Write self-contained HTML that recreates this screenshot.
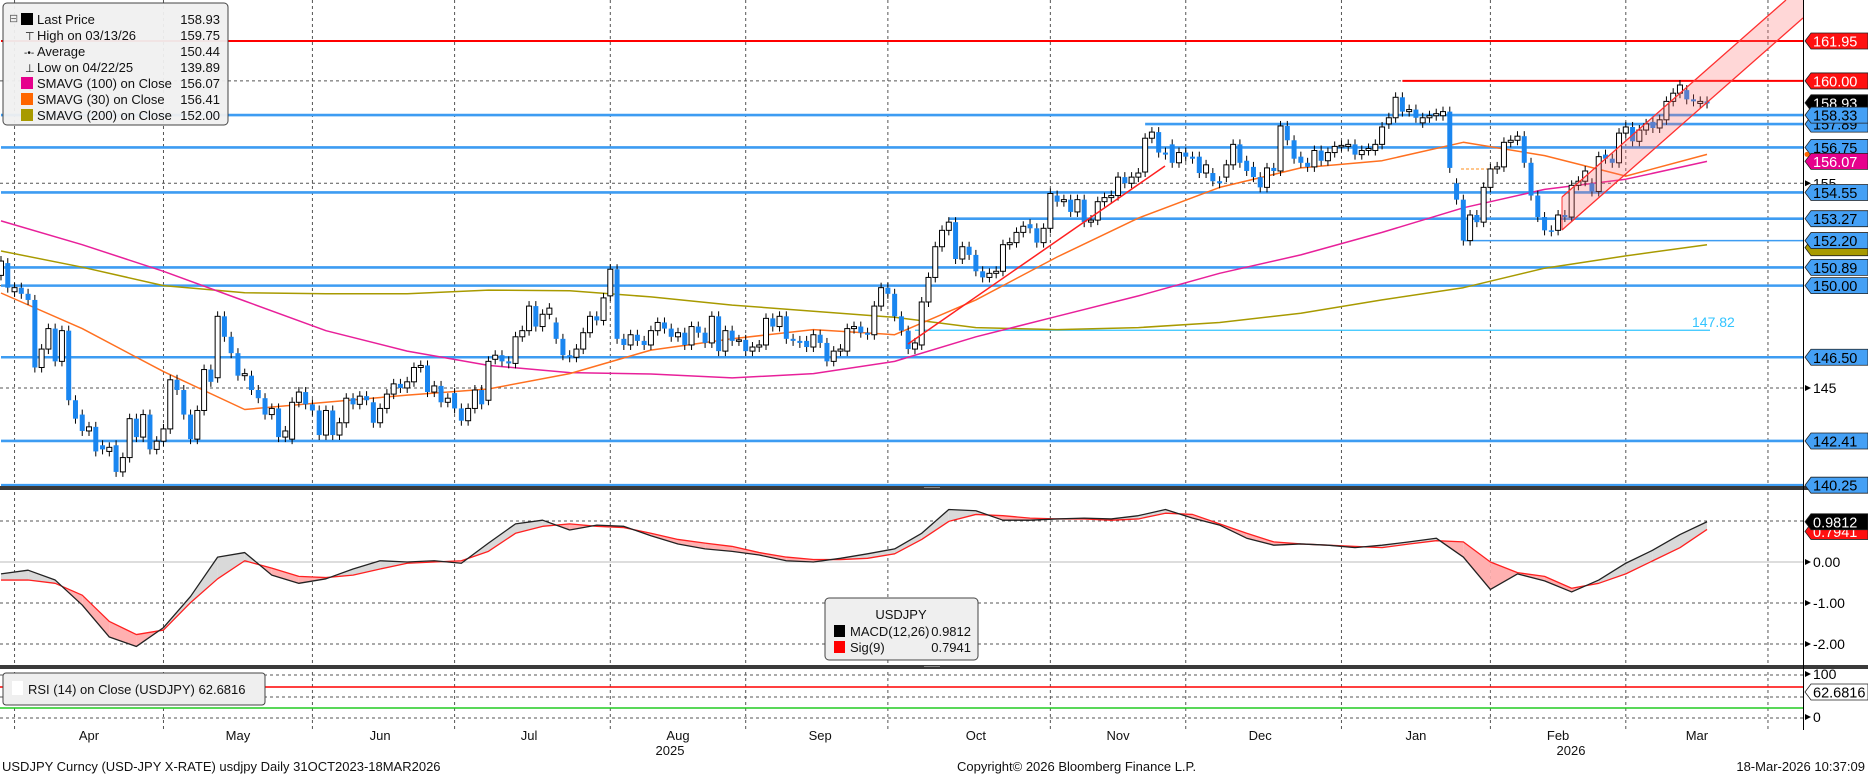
<!DOCTYPE html>
<html><head><meta charset="utf-8"><style>
html,body{margin:0;padding:0;background:#fff;width:1868px;height:775px;overflow:hidden}
svg{display:block;font-family:"Liberation Sans",sans-serif}
</style></head><body>
<svg id="chart" width="1868" height="775" xmlns="http://www.w3.org/2000/svg">
<defs>
<clipPath id="mainClip"><rect x="0" y="0" width="1803" height="486"/></clipPath>
<clipPath id="macdClip"><rect x="0" y="490" width="1803" height="175"/></clipPath>
</defs>
<rect x="0" y="0" width="1868" height="775" fill="#fff"/>
<g id="grid"></g>
<g id="levels" clip-path="url(#mainClip)"></g>
<g id="mas" clip-path="url(#mainClip)"></g>
<g id="candles" clip-path="url(#mainClip)"></g>
<g id="trend" clip-path="url(#mainClip)">
  <polygon points="1562,197 1786,0 1803,0 1803,18 1562,230" fill="rgba(255,110,110,0.28)" stroke="none"/>
  <line x1="1562" y1="197" x2="1786" y2="0" stroke="#ff3030" stroke-width="1.3"/>
  <line x1="1562" y1="230" x2="1803" y2="18" stroke="#ff3030" stroke-width="1.3"/>
  <line x1="1562" y1="197" x2="1562" y2="230" stroke="#ff3030" stroke-width="1"/>
  <line x1="908" y1="344" x2="1165" y2="166" stroke="#ff2020" stroke-width="1.5"/>
</g>
<g id="macd" clip-path="url(#macdClip)"></g>
<rect x="0" y="486" width="1868" height="4" fill="#3a3a3a"/>
<rect x="0" y="665" width="1868" height="4" fill="#3a3a3a"/>
<line x1="924" y1="487.5" x2="940" y2="487.5" stroke="#888" stroke-width="1"/>
<line x1="924" y1="666.5" x2="940" y2="666.5" stroke="#888" stroke-width="1"/>
<g>
  <line x1="0" y1="675" x2="1803" y2="675" stroke="#555" stroke-dasharray="3,3"/>
  <line x1="0" y1="697" x2="1803" y2="697" stroke="#555" stroke-dasharray="3,3"/>
  <line x1="0" y1="718" x2="1803" y2="718" stroke="#555" stroke-dasharray="3,3"/>
  <line x1="0" y1="687" x2="1803" y2="687" stroke="#ff0000" stroke-width="1.5"/>
  <line x1="0" y1="708" x2="1803" y2="708" stroke="#22cc22" stroke-width="1.5"/>
  <rect x="3" y="673" width="262" height="32" rx="3" fill="#efefef" stroke="#444"/>
  <rect x="12" y="681" width="11" height="14" fill="#fff"/>
  <text x="28" y="694" font-size="13" fill="#111">RSI (14)  on Close (USDJPY) 62.6816</text>
</g>
<line x1="1803.5" y1="0" x2="1803.5" y2="730" stroke="#000" stroke-width="1"/>
<g id="axis"></g>
<g id="xaxis"></g>
<g>
  <rect x="3" y="3" width="225" height="122" rx="4" fill="#f0f0f0" stroke="#444" fill-opacity="0.95"/>
  <g font-size="13" fill="#111">
    <rect x="21" y="13" width="12" height="12" fill="#000"/><text x="37" y="24">Last Price</text><text x="220" y="24" text-anchor="end">158.93</text>
    <text x="25" y="40" font-size="11">⊤</text><text x="37" y="40">High on 03/13/26</text><text x="220" y="40" text-anchor="end">159.75</text>
    <text x="24" y="56" font-size="10">-•-</text><text x="37" y="56">Average</text><text x="220" y="56" text-anchor="end">150.44</text>
    <text x="25" y="72" font-size="11">⊥</text><text x="37" y="72">Low on 04/22/25</text><text x="220" y="72" text-anchor="end">139.89</text>
    <rect x="21" y="77" width="12" height="12" fill="#e6008c"/><text x="37" y="88">SMAVG (100)  on Close</text><text x="220" y="88" text-anchor="end">156.07</text>
    <rect x="21" y="93" width="12" height="12" fill="#ff6600"/><text x="37" y="104">SMAVG (30)  on Close</text><text x="220" y="104" text-anchor="end">156.41</text>
    <rect x="21" y="109" width="12" height="12" fill="#a89a00"/><text x="37" y="120">SMAVG (200)  on Close</text><text x="220" y="120" text-anchor="end">152.00</text>
    <text x="9" y="22" font-size="11" fill="#666">⊟</text>
  </g>
</g>
<g>
  <rect x="825" y="598" width="153" height="62" rx="4" fill="#efefef" stroke="#444"/>
  <text x="901" y="619" font-size="13" text-anchor="middle" fill="#111">USDJPY</text>
  <rect x="834" y="625" width="11" height="12" fill="#000"/>
  <text x="850" y="636" font-size="13" fill="#111">MACD(12,26)</text><text x="971" y="636" font-size="13" text-anchor="end" fill="#111">0.9812</text>
  <rect x="834" y="641" width="11" height="12" fill="#ff0000"/>
  <text x="850" y="652" font-size="13" fill="#111">Sig(9)</text><text x="971" y="652" font-size="13" text-anchor="end" fill="#111">0.7941</text>
</g>
<g font-size="13" fill="#111">
  <text x="2" y="771">USDJPY Curncy (USD-JPY X-RATE) usdjpy Daily 31OCT2023-18MAR2026</text>
  <text x="957" y="771">Copyright© 2026 Bloomberg Finance L.P.</text>
  <text x="1865" y="771" text-anchor="end">18-Mar-2026 10:37:09</text>
</g>
</svg>
<script>
const candles = [
[150.5,151.2],[151.1,149.9],[149.7,149.9],[149.9,149.6],[149.6,149.3],[149.3,146.0],[146.0,146.9],[146.9,147.9],[147.9,146.3],[146.3,147.8],
[147.8,144.4],[144.4,143.5],[143.7,142.9],[142.9,143.1],[143.1,141.9],[142.2,142.0],[141.9,142.1],[142.2,140.9],[140.9,141.6],[141.6,143.5],
[143.5,142.6],[142.6,143.7],[143.7,142.0],[142.0,142.4],[142.4,143.0],[143.0,145.4],[145.4,144.9],[144.9,143.7],[143.7,142.5],[142.5,143.9],
[143.9,145.9],[145.9,145.3],[145.5,148.5],[148.5,147.5],[147.5,146.7],[146.7,145.6],[145.6,145.7],[145.6,144.9],[144.9,144.5],[144.5,143.7],
[143.7,144.0],[144.0,142.6],[142.6,142.9],[142.5,144.3],[144.3,144.8],[144.8,144.2],[144.2,143.9],[143.9,142.7],[142.7,143.9],[143.9,142.7],
[142.7,143.3],[143.3,144.5],[144.5,144.2],[144.2,144.6],[144.6,144.4],[144.3,143.3],[143.3,144.0],[144.0,144.7],[144.7,145.2],[145.2,145.0],
[145.0,145.3],[145.3,146.0],[146.0,146.1],[146.1,144.8],[144.8,145.1],[145.1,144.3],[144.3,144.5],[144.75,144.0],[144.0,143.4],
[143.4,144.0],[144.0,144.9],[144.9,144.2],[144.4,146.3],[146.4,146.6],[146.6,146.3],[146.3,146.2],[146.2,147.5],[147.5,147.8],[147.8,149.0],
[149.0,148.0],[148.0,148.6],[148.6,148.9],[148.2,147.4],[147.4,146.6],[146.6,146.5],[146.5,146.9],[146.9,147.7],[147.7,148.5],[148.5,148.3],
[148.3,149.4],[149.5,150.8],[150.8,147.4],[147.4,147.1],[147.1,147.6],[147.6,147.3],[147.3,147.1],[147.1,147.8],[147.8,148.2],[148.2,147.9],
[147.9,147.5],[147.5,147.7],[147.7,147.1],[147.1,148.0],[148.0,147.7],[147.7,147.2],[147.2,148.5],[148.5,146.8],[146.8,147.8],[147.8,147.3],
[147.3,147.35],[147.35,146.8],[146.8,147.0],[147.0,147.1],[147.1,148.4],[148.4,148.0],[148.0,148.5],[148.5,147.4],[147.4,147.3],[147.3,147.2],
[147.3,147.0],[147.0,147.6],[147.6,147.2],[147.2,146.3],[146.3,146.8],[146.8,146.9],[146.8,147.9],[147.9,148.0],[148.0,147.7],[147.7,147.6],
[147.6,149.0],[149.0,149.9],[149.9,149.6],[149.6,148.5],[148.5,147.8],[147.8,146.9],[146.9,147.2],
[147.1,149.2],[149.2,150.4],[150.4,151.9],[151.9,152.7],[152.7,153.1],[153.1,151.3],[151.3,151.9],[151.9,151.5],[151.5,150.7],[150.7,150.4],
[150.4,150.6],[150.6,150.7],[150.7,152.0],[152.0,152.1],[152.1,152.6],[152.6,152.9],[153.0,152.8],[152.8,152.1],[152.1,152.8],[152.8,154.5],
[154.4,154.1],[154.1,154.2],[154.2,153.6],[153.6,154.2],[154.2,153.1],[153.1,153.2],[153.2,154.1],[154.1,154.3],[154.3,154.4],[154.4,155.3],
[155.3,155.0],[155.0,155.3],[155.3,155.5],[155.55,157.2],[157.2,157.5],[157.5,156.5],[156.5,156.4],[156.9,156.0],[156.0,156.5],[156.5,156.3],
[156.3,156.2],[156.3,155.5],[155.5,155.9],[155.5,155.1],[155.1,155.0],[155.3,155.9],[155.9,156.9],[156.9,156.0],[156.1,155.6],[155.8,155.3],
[155.3,154.8],[154.8,155.75],[155.75,155.6],[155.6,157.8],[157.8,157.1],[157.1,156.2],[156.3,156.0],[156.0,155.8],[155.8,156.6],[156.6,156.1],
[156.1,156.5],[156.5,156.8],[156.8,156.85],[156.8,156.9],[156.9,156.4],
[156.4,156.6],[156.6,156.7],[156.6,156.9],[156.9,157.75],[157.9,158.2],[158.2,159.2],[159.2,158.5],[158.5,158.6],[158.6,158.2],[157.95,158.2],
[158.2,158.3],[158.3,158.4],[158.3,158.5],[158.5,155.75],[155.0,154.2],[154.2,152.2],[152.2,153.45],[153.45,153.1],[153.1,154.8],[154.8,155.7],
[155.7,155.8],[155.8,157.0],[157.0,157.1],[157.1,157.3],[157.3,156.0],[156.0,154.4],[154.4,153.35],[153.35,152.7],[152.7,152.65],[152.7,153.45],
[153.45,153.35],[153.35,154.9],[154.9,155.1],[155.1,155.6],[155.0,154.6],[154.6,156.3],[156.4,156.2],[156.2,156.0],[156.0,157.45],[157.45,157.75],
[157.75,157.05],[157.05,157.6],[157.6,157.9],[158.0,157.7],[157.7,158.1],[158.1,159.0],[159.0,159.4],[159.4,159.8],[159.55,159.1],[159.1,159.0],
[158.9,159.0],[159.0,158.9]
];
const maIndex = [0,12,24,36,48,60,72,84,96,108,120,132,144,156,168,180,192,204,216,228,240,252];
const sma30  = [149.64,147.9,145.8,143.95,144.3,144.65,144.95,145.7,146.85,147.4,147.85,147.6,149.3,151.4,153.3,154.8,155.75,156.1,157.0,156.35,155.35,156.41];
const sma100 = [153.16,152.0,150.7,149.25,147.8,146.8,146.1,145.75,145.68,145.49,145.7,146.3,147.5,148.5,149.5,150.6,151.5,152.6,153.8,154.7,155.2,156.07];
const sma200 = [151.69,150.9,150.0,149.65,149.6,149.6,149.78,149.75,149.45,149.05,148.75,148.45,147.95,147.85,147.95,148.2,148.65,149.3,149.9,150.85,151.45,152.0];
// MACD sampled every 4 sessions (last at session 252)
const macdVals = [-0.29,-0.20,-0.44,-1.05,-1.83,-2.06,-1.60,-0.84,0.12,0.23,
-0.32,-0.52,-0.41,-0.17,0.03,0,0.03,-0.03,0.46,0.93,
1.02,0.78,0.90,0.87,0.64,0.44,0.32,0.26,0.17,0.03,
0,0.09,0.20,0.32,0.70,1.28,1.25,1.02,1.02,1.05,
1.07,1.05,1.13,1.28,1.07,0.90,0.58,0.41,0.44,0.41,
0.35,0.41,0.49,0.58,0.12,-0.67,-0.29,-0.46,-0.73,-0.44,
-0.03,0.29,0.67,0.9812];
const sigVals = [-0.44,-0.44,-0.52,-0.81,-1.45,-1.77,-1.66,-0.99,-0.41,0.03,
-0.15,-0.35,-0.38,-0.32,-0.17,-0.03,0,0.03,0.26,0.70,
0.87,0.93,0.87,0.84,0.70,0.55,0.46,0.38,0.23,0.12,
0.06,0.06,0.09,0.20,0.55,0.99,1.16,1.13,1.07,1.05,
1.05,1.02,1.05,1.19,1.16,0.93,0.70,0.49,0.44,0.41,
0.38,0.35,0.44,0.52,0.49,0,-0.26,-0.35,-0.64,-0.52,
-0.29,0.03,0.35,0.7941];
const macdIndex = macdVals.map((v,k)=>Math.min(252,k*4));
const levelPrices = [158.33,157.89,156.75,154.55,153.27,152.20,150.89,150.00,147.82,146.50,142.41,140.25,161.95,160.00];
const levelStarts = [0,169,0,0,140,216,0,0,135,0,0,0,0,207];
const levelKinds  = ['b','b','b','b','b','t','b','b','c','b','b','b','r','r'];
const monthLabels = ['Apr','May','Jun','Jul','Aug','Sep','Oct','Nov','Dec','Jan','Feb','Mar'];
const monthMid    = [13,35,56,78,100,121,144,165,186,209,230,250.5];
const monthStart  = [2,24,46,67,90,110,131,155,175,198,220,240,261];
const priceTicks = [145,150,155,160];
const macdTicks = [1,0,-1,-2];

const NS='http://www.w3.org/2000/svg';
const DX=6.77;
const xs=i=>1+i*DX;
const yp=p=>41+(161.95-p)*20.47;
const ym=v=>562-v*41;
function mk(tag,attrs,parent){const e=document.createElementNS(NS,tag);for(const k in attrs)e.setAttribute(k,attrs[k]);parent.appendChild(e);return e;}

const grid=document.getElementById('grid');
monthStart.forEach(i=>{
  const l=mk('line',{x1:xs(i),x2:xs(i),y1:0,y2:730,stroke:'#555','stroke-dasharray':'3,3','stroke-width':1},grid);
  
  
});
priceTicks.forEach(p=>{
  const l=mk('line',{x1:0,x2:1803,y1:yp(p),y2:yp(p),stroke:'#555','stroke-dasharray':'3,3'},grid);
  
  
});
macdTicks.forEach(v=>{
  const l=mk('line',{x1:0,x2:1803,y1:ym(v),y2:ym(v),stroke:v===0?'#bbb':'#555','stroke-dasharray':v===0?'none':'3,3'},grid);
  
  
});

const lv=document.getElementById('levels');
const kindColor={b:'#3d9cf2',t:'#3d9cf2',c:'#33c4ff',r:'#ff0000'};
const kindW={b:2.6,t:1.5,c:1.3,r:2};
levelPrices.forEach((p,k)=>{
  const kd=levelKinds[k];
  const x2=kd==='c'?1710:1803;
  const l=mk('line',{x1:xs(levelStarts[k]),x2:x2,y1:yp(p),y2:yp(p),stroke:kindColor[kd],'stroke-width':kindW[kd]},lv);
  
  
});
const t147=mk('text',{x:1692,y:327,'font-size':14,fill:'#33c4ff'},lv);t147.textContent='147.82';


const dl=mk('line',{x1:1461,x2:1495,y1:yp(155.7),y2:yp(155.7),stroke:'#ff8c1a','stroke-dasharray':'3,2'},lv);



const mas=document.getElementById('mas');
[[sma200,'#a89a00','sma200-line'],[sma100,'#e8209a','sma100-line'],[sma30,'#ff7020','sma30-line']].forEach(([arr,col,nm])=>{
  const pts=arr.map((v,k)=>xs(maIndex[k]).toFixed(1)+','+yp(v).toFixed(1)).join(' ');
  const pl=mk('polyline',{points:pts,fill:'none',stroke:col,'stroke-width':1.5,'stroke-linejoin':'round'},mas);
  
  
});

const cg=document.getElementById('candles');
candles.forEach(([o,c],i)=>{
  const x=xs(i);const up=c>=o;
  const top=yp(Math.max(o,c)),bot=yp(Math.min(o,c));
  const w=mk('line',{x1:x,x2:x,y1:top-5,y2:bot+5,stroke:'#000','stroke-width':1},cg);
  
  
  const r=mk('rect',{x:x-2.5,y:top,width:5,height:Math.max(1.5,bot-top),fill:up?'#fff':'#1a86f0',stroke:up?'#000':'none','stroke-width':1},cg);
  
  
});

const mg=document.getElementById('macd');
for(let k=0;k<macdIndex.length-1;k++){
  const xa=xs(macdIndex[k]),xb=xs(macdIndex[k+1]);
  const m1=macdVals[k],m2=macdVals[k+1],s1=sigVals[k],s2=sigVals[k+1];
  const d1=m1-s1,d2=m2-s2;
  const seg=(xa,ma,sa,xb,mb,sb,col)=>{
    const p=mk('polygon',{points:`${xa},${ym(ma)} ${xb},${ym(mb)} ${xb},${ym(sb)} ${xa},${ym(sa)}`,fill:col,stroke:'none'},mg);
    
    
  };
  const col=d=>d>=0?'#d9d9d9':'#ffb0b0';
  if(d1*d2<0){const t=d1/(d1-d2);const xc=xa+(xb-xa)*t,mc=m1+(m2-m1)*t;
    seg(xa,m1,s1,xc,mc,mc,col(d1));seg(xc,mc,mc,xb,m2,s2,col(d2));}
  else seg(xa,m1,s1,xb,m2,s2,col(d1+d2));
}
const sl=mk('polyline',{points:sigVals.map((v,k)=>xs(macdIndex[k])+','+ym(v)).join(' '),fill:'none',stroke:'#ff2020','stroke-width':1.3,'stroke-linejoin':'round'},mg);


const ml=mk('polyline',{points:macdVals.map((v,k)=>xs(macdIndex[k])+','+ym(v)).join(' '),fill:'none',stroke:'#222','stroke-width':1.3,'stroke-linejoin':'round'},mg);



const ax=document.getElementById('axis');
function tick(y,label,name){
  mk('polygon',{points:`1805,${y-3} 1811,${y} 1805,${y+3}`,fill:'#000'},ax);
  const t=mk('text',{x:1813,y:y+5,'font-size':14,fill:'#000'},ax);t.textContent=label;
  
  
}
function box(y,label,bg,fg,name){
  const g=mk('g',{},ax);
  
  
  mk('polygon',{points:`1805,${y} 1811,${y-8} 1868,${y-8} 1868,${y+8} 1811,${y+8}`,fill:bg,stroke:'#222','stroke-width':0.8},g);
  const t=mk('text',{x:1813,y:y+5.5,'font-size':14.5,fill:fg},g);t.textContent=label;
}
tick(yp(155),'155','tick-155');
tick(yp(145),'145','tick-145');
tick(ym(0),'0.00','tick-macd-0');
tick(ym(-1),'-1.00','tick-macd-m1');
tick(ym(-2),'-2.00','tick-macd-m2');
tick(674,'100','tick-rsi-100');
tick(717,'0','tick-rsi-0');
box(yp(161.95),'161.95','#ff1010','#fff','label-161-95');
box(yp(160.00),'160.00','#ff1010','#fff','label-160-00');
box(yp(157.89),'157.89','#44a0f5','#000','label-157-89');
box(yp(158.93),'158.93','#000','#fff','label-last-price');
box(yp(158.33),'158.33','#44a0f5','#000','label-158-33');
box(yp(156.75),'156.75','#44a0f5','#000','label-156-75');
box(yp(156.07),'156.07','#e6008c','#fff','label-sma100');
box(yp(154.55),'154.55','#44a0f5','#000','label-154-55');
box(yp(153.27),'153.27','#44a0f5','#000','label-153-27');
box(yp(152.0)+3,'','#a89a00','#000','label-sma200');
box(yp(152.20),'152.20','#44a0f5','#000','label-152-20');
box(yp(150.89),'150.89','#44a0f5','#000','label-150-89');
box(yp(150.00),'150.00','#44a0f5','#000','label-150-00');
box(yp(146.50),'146.50','#44a0f5','#000','label-146-50');
box(yp(142.41),'142.41','#44a0f5','#000','label-142-41');
box(yp(140.25),'140.25','#44a0f5','#000','label-140-25');
box(ym(0.7941)+2,'0.7941','#ff1010','#fff','label-signal');
box(ym(0.9812),'0.9812','#000','#fff','label-macd');
box(692,'62.6816','#fff','#000','label-rsi');
const dot=mk('circle',{cx:1807,cy:yp(156.41),r:2.5,fill:'#ff6600'},ax);



const xa=document.getElementById('xaxis');
monthLabels.forEach((m,k)=>{
  const t=mk('text',{x:xs(monthMid[k]),y:740,'font-size':13,'text-anchor':'middle',fill:'#111'},xa);t.textContent=m;
  
  
});
const y25=mk('text',{x:670,y:755,'font-size':13,'text-anchor':'middle',fill:'#111'},xa);y25.textContent='2025';


const y26=mk('text',{x:1571,y:755,'font-size':13,'text-anchor':'middle',fill:'#111'},xa);y26.textContent='2026';


</script>
</body></html>
